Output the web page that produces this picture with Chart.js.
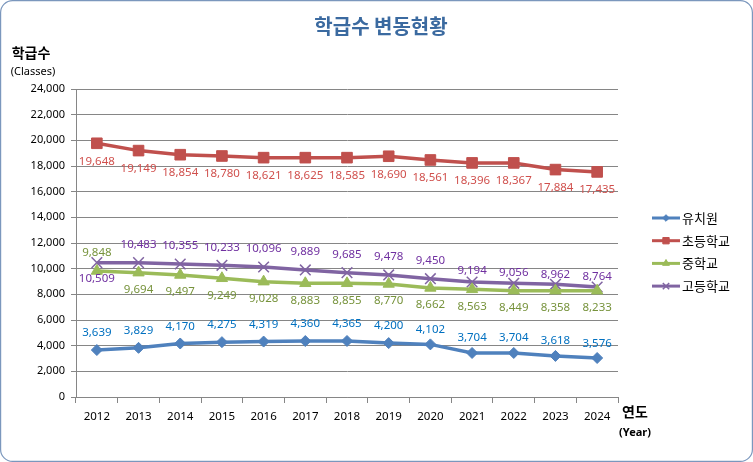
<!DOCTYPE html>
<html>
<head>
<meta charset="utf-8">
<script src="https://cdn.jsdelivr.net/npm/chart.js@4"></script>
<style>
  html, body { margin: 0; padding: 0; background: #fff; }
  canvas { display: block; }
</style>
</head>
<body>
<canvas id="chart" width="753" height="462"></canvas>
<script>
// data
var years = ['2012', '2013', '2014', '2015', '2016', '2017', '2018', '2019', '2020', '2021', '2022', '2023', '2024'];
var seriesNames = ['유치원', '초등학교', '중학교', '고등학교'];

// plotted positions
var kinder = [3660, 3830, 4170, 4275, 4320, 4360, 4365, 4200, 4100, 3430, 3430, 3200, 3040];
var elementary = [19770, 19200, 18880, 18780, 18650, 18650, 18650, 18760, 18470, 18240, 18240, 17720, 17540];
var middle = [9820, 9690, 9510, 9250, 8990, 8860, 8860, 8810, 8500, 8390, 8285, 8285, 8285];
var high = [10470, 10470, 10365, 10260, 10130, 9900, 9690, 9510, 9220, 8960, 8860, 8780, 8570];

// value labels as printed
var kinderLabels = [3639, 3829, 4170, 4275, 4319, 4360, 4365, 4200, 4102, 3704, 3704, 3618, 3576];
var elementaryLabels = [19648, 19149, 18854, 18780, 18621, 18625, 18585, 18690, 18561, 18396, 18367, 17884, 17435];
var middleLabels = [9848, 9694, 9497, 9249, 9028, 8883, 8855, 8770, 8662, 8563, 8449, 8358, 8233];
var highLabels = [10509, 10483, 10355, 10233, 10096, 9889, 9685, 9478, 9450, 9194, 9056, 8962, 8764];

var yTicksMax = 24000;
var yTicksStep = 2000;

var numFont = "'Noto Sans', 'DejaVu Sans', sans-serif";
var korFont = "'Noto Sans CJK KR', 'Noto Sans', sans-serif";

function fmt(v) {
  return v.toString().replace(/\B(?=(\d{3})+(?!\d))/g, ',');
}

var textPlugin = {
  id: 'textPlugin',
  beforeDraw: function (chart) {
    var ctx = chart.ctx;
    ctx.save();
    ctx.fillStyle = '#fff';
    ctx.fillRect(0, 0, chart.width, chart.height);
    ctx.restore();
  },
  afterDraw: function (chart) {
    var ctx = chart.ctx;
    ctx.save();

    // outer frame
    ctx.strokeStyle = '#7b97bd';
    ctx.lineWidth = 1.2;
    ctx.beginPath();
    ctx.roundRect(0.6, 0.6, chart.width - 1.2, chart.height - 1.2, 12);
    ctx.stroke();

    // title
    ctx.fillStyle = '#3b6aa0';
    ctx.font = 'bold 20px ' + korFont;
    ctx.textAlign = 'center';
    ctx.textBaseline = 'middle';
    ctx.fillText('학급수 변동현황', 381, 26);

    // axis titles
    ctx.fillStyle = '#000';
    ctx.font = 'bold 14px ' + korFont;
    ctx.fillText('학급수', 31, 53);
    ctx.font = '11px ' + numFont;
    ctx.fillText('(Classes)', 33, 72);
    ctx.font = 'bold 14px ' + korFont;
    ctx.fillText('연도', 635, 412);
    ctx.font = 'bold 11px ' + numFont;
    ctx.fillText('(Year)', 635, 433);

    // value labels
    chart.data.datasets.forEach(function (ds, i) {
      var meta = chart.getDatasetMeta(i);
      ctx.fillStyle = ds.labelColor;
      ctx.font = '11.5px ' + numFont;
      ctx.textAlign = 'center';
      ctx.textBaseline = 'middle';
      meta.data.forEach(function (pt, j) {
        ctx.fillText(fmt(ds.valueLabels[j]), pt.x, pt.y + ds.labelDy[j]);
      });
    });

    // legend
    var ly = 218;
    chart.data.datasets.forEach(function (ds, i) {
      var y = ly + i * 22.7;
      ctx.strokeStyle = ds.borderColor;
      ctx.fillStyle = ds.borderColor;
      ctx.lineWidth = 3;
      ctx.beginPath();
      ctx.moveTo(652, y);
      ctx.lineTo(680, y);
      ctx.stroke();
      ctx.lineWidth = ds.pointBorderWidth || 1;
      Chart.helpers.drawPoint(ctx, {
        pointStyle: ds.pointStyle,
        radius: ds.pointRadius * 0.6,
        borderWidth: ds.pointBorderWidth || 1
      }, 666, y);
      ctx.fillStyle = '#000';
      ctx.font = '13px ' + korFont;
      ctx.textAlign = 'left';
      ctx.textBaseline = 'middle';
      ctx.fillText(ds.label, 682, y);
    });

    ctx.restore();
  }
};

function fill(n, v) {
  var a = [];
  for (var k = 0; k < n; k++) a.push(v);
  return a;
}

var middleDy = fill(13, 17); middleDy[0] = -18;
var highDy = fill(13, -18); highDy[0] = 16;
highDy[9] = -11; highDy[10] = -11; highDy[11] = -10; highDy[12] = -10;
var kinderDy = fill(13, -17);
kinderDy[8] = -15; kinderDy[9] = -15; kinderDy[10] = -15; kinderDy[11] = -15; kinderDy[12] = -14;

var ctx = document.getElementById('chart').getContext('2d');
var myChart = new Chart(ctx, {
  type: 'line',
  data: {
    labels: years,
    datasets: [{
      label: seriesNames[0],
      data: kinder,
      valueLabels: kinderLabels,
      labelDy: kinderDy,
      labelColor: '#0070c0',
      borderColor: '#4f81bd',
      backgroundColor: '#4f81bd',
      borderWidth: 3.5,
      pointStyle: 'rectRot',
      pointRadius: 5.5,
      pointBorderWidth: 1,
      pointBackgroundColor: '#4f81bd',
      pointBorderColor: '#4f81bd'
    }, {
      label: seriesNames[1],
      data: elementary,
      valueLabels: elementaryLabels,
      labelDy: fill(13, 18),
      labelColor: '#d0504d',
      borderColor: '#c0504d',
      backgroundColor: '#c0504d',
      borderWidth: 3.5,
      pointStyle: 'rect',
      pointRadius: 7.5,
      pointBorderWidth: 1,
      pointBackgroundColor: '#c0504d',
      pointBorderColor: '#c0504d'
    }, {
      label: seriesNames[2],
      data: middle,
      valueLabels: middleLabels,
      labelDy: middleDy,
      labelColor: '#77933c',
      borderColor: '#9bbb59',
      backgroundColor: '#9bbb59',
      borderWidth: 3.5,
      pointStyle: 'triangle',
      pointRadius: 6.5,
      pointBorderWidth: 1,
      pointBackgroundColor: '#9bbb59',
      pointBorderColor: '#9bbb59'
    }, {
      label: seriesNames[3],
      data: high,
      valueLabels: highLabels,
      labelDy: highDy,
      labelColor: '#7030a0',
      borderColor: '#8064a2',
      backgroundColor: '#8064a2',
      borderWidth: 3.5,
      pointStyle: 'crossRot',
      pointRadius: 7.5,
      pointBorderWidth: 1.5,
      pointBackgroundColor: '#8064a2',
      pointBorderColor: '#8064a2'
    }]
  },
  options: {
    responsive: false,
    animation: false,
    layout: {
      padding: { top: 89, right: 135, left: 0, bottom: 0 }
    },
    elements: {
      line: { tension: 0 }
    },
    plugins: {
      legend: { display: false },
      title: { display: false },
      tooltip: { enabled: false }
    },
    scales: {
      x: {
        offset: true,
        grid: {
          offset: true,
          drawOnChartArea: false,
          color: '#868686',
          tickLength: 6
        },
        border: { color: '#868686' },
        ticks: {
          color: '#000',
          padding: 7,
          font: { size: 11.5, family: numFont }
        },
        afterFit: function (s) { s.height = 65; }
      },
      y: {
        min: 0,
        max: yTicksMax,
        grid: {
          color: '#868686',
          tickLength: 5
        },
        border: { color: '#868686' },
        ticks: {
          stepSize: yTicksStep,
          color: '#000',
          padding: 6,
          font: { size: 11, family: numFont },
          callback: function (v) { return fmt(v); }
        },
        afterFit: function (s) { s.width = 76; }
      }
    }
  },
  plugins: [textPlugin]
});
</script>
</body>
</html>
